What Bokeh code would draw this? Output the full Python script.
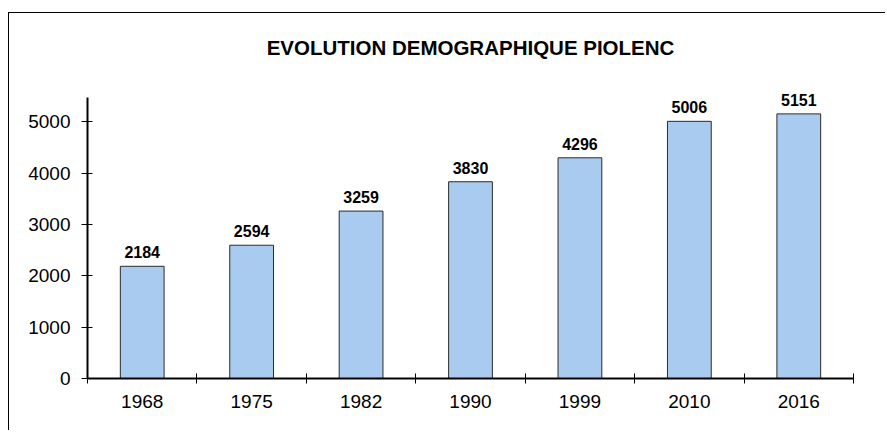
from bokeh.plotting import figure
from bokeh.models import ColumnDataSource, FixedTicker, Range1d
from bokeh.core.properties import value
from bokeh.embed import file_html
from bokeh.resources import INLINE

years = ["1968", "1975", "1982", "1990", "1999", "2010", "2016"]
population = [2184, 2594, 3259, 3830, 4296, 5006, 5151]
y_ticks = [0, 1000, 2000, 3000, 4000, 5000]
title_text = "EVOLUTION DEMOGRAPHIQUE PIOLENC"

FONT = "Liberation Sans"
AXIS_MAX = 5470          # top of the drawn y axis line
VIEW_MAX = 7105          # frame extends above the axis to hold the title and labels

xpos = [i + 0.5 for i in range(len(years))]
src = ColumnDataSource(dict(x=xpos, pop=population, lab=[str(v) for v in population]))

p = figure(width=877, height=418, output_backend="svg", toolbar_location=None,
           x_range=Range1d(0, len(years)), y_range=Range1d(0, VIEW_MAX),
           min_border_left=78, min_border_right=33, min_border_top=0, min_border_bottom=53)
p.styles = {"border-top": "1px solid black", "border-left": "1px solid black",
            "margin-top": "12px", "margin-left": "8px"}
p.outline_line_color = None
p.grid.grid_line_color = None
p.background_fill_color = "white"
p.border_fill_color = "white"

p.vbar(x="x", top="pop", width=0.40, source=src, fill_color="#A9CBF0",
       line_color="#2b2b2b", line_width=1)
p.text(x="x", y="pop", text="lab", source=src, text_align="center",
       text_baseline="alphabetic", y_offset=-14, text_font=value(FONT),
       text_font_style="bold", text_font_size="16px", text_color="black")

# chart title, anchored to the top of the frame
p.text(x=[len(years) / 2], y=[VIEW_MAX], text=[title_text], text_align="center",
       text_baseline="alphabetic", y_offset=34, text_font=value(FONT),
       text_font_style="bold", text_font_size="20.5px", text_color="black")

xa = p.xaxis[0]
xa.ticker = FixedTicker(ticks=xpos, minor_ticks=list(range(len(years) + 1)))
xa.major_label_overrides = {x: y for x, y in zip(xpos, years)}
xa.major_tick_in = 0
xa.major_tick_out = 0
xa.minor_tick_in = 5
xa.minor_tick_out = 5
xa.minor_tick_line_color = "black"
xa.minor_tick_line_width = 1
xa.axis_line_width = 2
xa.axis_line_color = "black"
xa.major_label_standoff = 11
xa.major_label_text_font = FONT
xa.major_label_text_font_size = "19px"
xa.major_label_text_color = "black"

ya = p.yaxis[0]
ya.ticker = FixedTicker(ticks=y_ticks, minor_ticks=[])
ya.bounds = (0, AXIS_MAX)
ya.major_tick_in = 5
ya.major_tick_out = 6
ya.major_tick_line_color = "black"
ya.axis_line_width = 2
ya.axis_line_color = "black"
ya.major_label_standoff = 11
ya.major_label_text_font = FONT
ya.major_label_text_font_size = "19px"
ya.major_label_text_color = "black"
ya.minor_tick_line_color = None

open("out.html", "w").write(file_html(p, INLINE))
